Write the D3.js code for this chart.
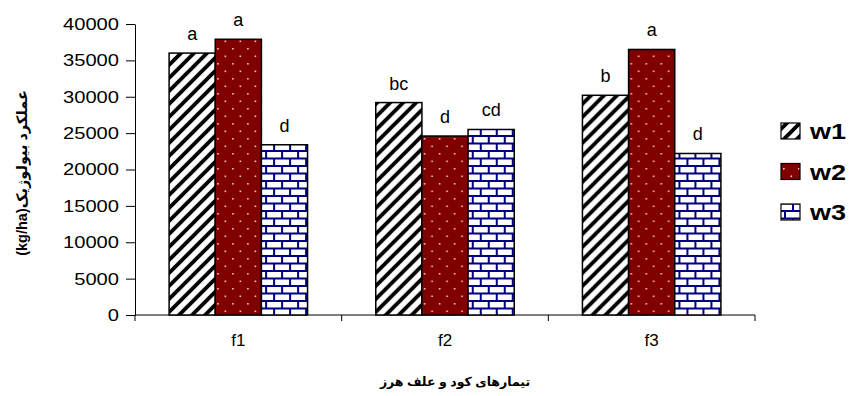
<!DOCTYPE html>
<html>
<head>
<meta charset="utf-8">
<script src="https://cdn.jsdelivr.net/npm/d3@7"></script>
<style>
  html, body { margin: 0; padding: 0; background: #fff; }
  svg { display: block; }
  text { font-family: "Liberation Sans", Arial, "DejaVu Sans", sans-serif; fill: #000; }
</style>
</head>
<body>
<svg id="chart" width="851" height="396"></svg>
<script>
const categories = ["f1", "f2", "f3"];
const seriesNames = ["w1", "w2", "w3"];
const w1Values = [36000, 29200, 30200];
const w2Values = [37900, 24600, 36500];
const w3Values = [23400, 25500, 22200];
const w1Letters = ["a", "bc", "b"];
const w2Letters = ["a", "d", "a"];
const w3Letters = ["d", "cd", "d"];
const yTicks = [0, 5000, 10000, 15000, 20000, 25000, 30000, 35000, 40000];
const yTitle = "(kg/ha)عملکرد بیولوژیک";
const xTitle = "تیمارهای کود و علف هرز";

const seriesValues = [w1Values, w2Values, w3Values];
const seriesLetters = [w1Letters, w2Letters, w3Letters];

const svg = d3.select("#chart");
const defs = svg.append("defs");

// Pattern: diagonal stripes (w1)
const p1 = defs.append("pattern").attr("id", "pat-w1")
  .attr("patternUnits", "userSpaceOnUse").attr("width", 13).attr("height", 13);
p1.append("rect").attr("width", 13).attr("height", 13).attr("fill", "#fff");
p1.append("path").attr("d", "M-4,4 L4,-4 M0,13 L13,0 M9,17 L17,9")
  .attr("stroke", "#000").attr("stroke-width", 3.8);

// Pattern: dark red with dots (w2)
const p2 = defs.append("pattern").attr("id", "pat-w2")
  .attr("patternUnits", "userSpaceOnUse").attr("width", 15).attr("height", 15);
p2.append("rect").attr("width", 15).attr("height", 15).attr("fill", "#800000");
p2.append("rect").attr("x", 3).attr("y", 3).attr("width", 1.6).attr("height", 1.6).attr("fill", "#f2c6c6");
p2.append("rect").attr("x", 10.5).attr("y", 10.5).attr("width", 1.6).attr("height", 1.6).attr("fill", "#f2c6c6");

// Pattern: blue bricks (w3)
const p3 = defs.append("pattern").attr("id", "pat-w3")
  .attr("patternUnits", "userSpaceOnUse").attr("width", 16).attr("height", 15);
p3.append("rect").attr("width", 16).attr("height", 15).attr("fill", "#fff");
p3.append("path")
  .attr("d", "M0,1 H16 M0,8.5 H16 M1,1 V8.5 M9,8.5 V16")
  .attr("stroke", "#000080").attr("stroke-width", 2).attr("fill", "none");

const fills = ["url(#pat-w1)", "url(#pat-w2)", "url(#pat-w3)"];

const x0 = d3.scaleBand().domain(categories).range([135, 755])
  .paddingInner(0.33).paddingOuter(0.165);
const x1 = d3.scaleBand().domain(seriesNames).range([0, x0.bandwidth()]);
const y = d3.scaleLinear().domain([0, 40000]).range([315, 24]);

// Y axis
const yAxis = d3.axisLeft(y).tickValues(yTicks).tickFormat(d3.format("d"))
  .tickSize(9).tickSizeOuter(0).tickPadding(7);
const gy = svg.append("g").attr("transform", "translate(135,0)").call(yAxis);
gy.select(".domain").attr("stroke", "#000");
gy.selectAll(".tick line").attr("stroke", "#000");
gy.selectAll(".tick text")
  .style("font-size", "17px")
  .attr("textLength", d => String(d).length * 11.2)
  .attr("lengthAdjust", "spacingAndGlyphs");

// X axis: boundary ticks
const xAxisG = svg.append("g");
xAxisG.append("line").attr("x1", 135).attr("x2", 755).attr("y1", 315).attr("y2", 315)
  .attr("stroke", "#000");
const bounds = [135].concat(categories.map(c => x0(c) + x0.bandwidth() + x0.step() * x0.paddingInner() / 2));
bounds[bounds.length - 1] = 755;
xAxisG.selectAll(".bt").data(bounds).enter().append("line")
  .attr("x1", d => d).attr("x2", d => d).attr("y1", 315).attr("y2", 321)
  .attr("stroke", "#000");
xAxisG.selectAll(".cl").data(categories).enter().append("text")
  .attr("x", d => x0(d) + x0.bandwidth() / 2).attr("y", 346)
  .attr("text-anchor", "middle").style("font-size", "17px")
  .text(d => d);

// Bars
const groups = svg.append("g").selectAll("g").data(categories).enter().append("g")
  .attr("transform", d => `translate(${x0(d)},0)`);
groups.each(function(cat, ci) {
  const g = d3.select(this);
  seriesNames.forEach((s, si) => {
    const v = seriesValues[si][ci];
    g.append("rect")
      .attr("x", x1(s)).attr("y", y(v))
      .attr("width", x1.bandwidth()).attr("height", y(0) - y(v))
      .attr("fill", fills[si]).attr("stroke", "#000").attr("stroke-width", 1.5);
    g.append("text")
      .attr("x", x1(s) + x1.bandwidth() / 2).attr("y", y(v) - 13)
      .attr("text-anchor", "middle").style("font-size", "18px")
      .text(seriesLetters[si][ci]);
  });
});

// Legend
const legend = svg.append("g");
seriesNames.forEach((s, i) => {
  const cy = 131 + i * 40.5;
  legend.append("rect").attr("x", 781).attr("y", cy - 8).attr("width", 19).attr("height", 16)
    .attr("fill", fills[i]).attr("stroke", "#000").attr("stroke-width", 1.2);
  legend.append("text").attr("x", 810).attr("y", cy + 8)
    .style("font-size", "22px").style("font-weight", "bold")
    .attr("textLength", 36).attr("lengthAdjust", "spacingAndGlyphs")
    .text(s);
});

// Axis titles
svg.append("text")
  .attr("transform", "translate(27,173) rotate(-90)")
  .attr("text-anchor", "middle")
  .attr("direction", "ltr")
  .style("font-size", "14.5px").style("font-weight", "bold")
  .text(yTitle);

svg.append("text")
  .attr("x", 455).attr("y", 386)
  .attr("text-anchor", "middle")
  .attr("direction", "rtl")
  .style("font-size", "12.5px").style("font-weight", "bold")
  .text(xTitle);
</script>
</body>
</html>
